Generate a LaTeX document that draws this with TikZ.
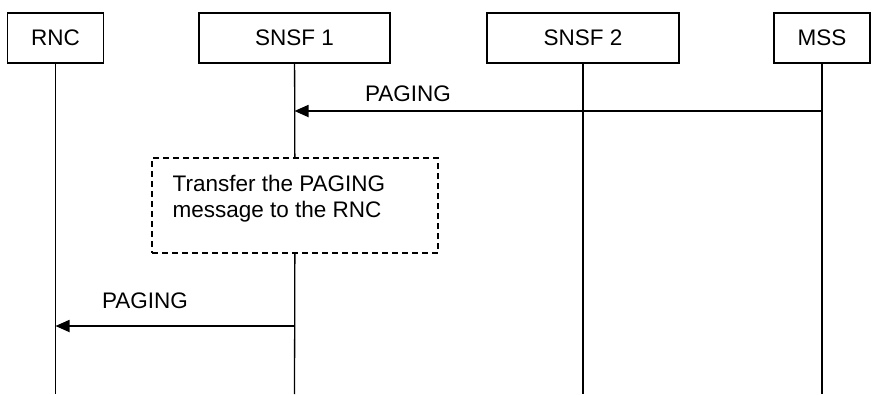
\documentclass[tikz,border=0pt]{standalone}
\usepackage{fontspec}
\setmainfont{Liberation Sans}
\usetikzlibrary{positioning,arrows.meta,calc}

\begin{document}
\begin{tikzpicture}[x=1pt,y=-1pt,
        entity/.style={rectangle, draw, line width=1.1pt, minimum height=50pt, inner sep=0pt, font=\fontsize{22.5}{26}\selectfont},
        lifeline/.style={line width=1.3pt},
        msg/.style={line width=1.8pt, -{Triangle[length=14pt,width=12pt]}},
        lbl/.style={font=\fontsize{22.5}{26}\selectfont, inner sep=0pt, anchor=base}]
        \useasboundingbox (0,0) rectangle (883,394);

        %-----Entities-----

        % RNC Entity
        \node [entity, minimum width=96pt] (rnc) at (55.5,38) {RNC};

        % SNSF 1 Entity
        \node [entity, minimum width=191pt] (snsf1) at (294.5,38) {SNSF 1};

        % SNSF 2 Entity
        \node [entity, minimum width=192pt] (snsf2) at (583,38) {SNSF 2};

        % MSS Entity
        \node [entity, minimum width=96pt] (mss) at (822,38) {MSS};

        % Transfer step (dashed box and its text)
        \node [rectangle, draw, dash pattern=on 6pt off 4pt, line width=1.1pt, fill=white,
               minimum width=286pt, minimum height=95pt] (transfer) at (295,205.5) {};
        \node [anchor=north west, inner sep=0pt, align=left, font=\fontsize{22.5}{26}\selectfont]
               (transfertext) at ($(transfer.north west)+(21,17.5)$) {%
            Transfer the PAGING \\
            message to the RNC
        };

        %-----Lifelines-----
        \coordinate (rncend) at (rnc.south |- 0,394);
        \coordinate (snsf1end) at (snsf1.south |- 0,394);
        \coordinate (snsf2end) at (snsf2.south |- 0,394);
        \coordinate (mssend) at (mss.south |- 0,394);

        \draw[lifeline] (rnc) -- (rncend);
        \draw[lifeline] (snsf1) -- (transfer);
        \draw[lifeline] (transfer) -- (snsf1end);
        \draw[lifeline] (snsf2) -- (snsf2end);
        \draw[lifeline] (mss) -- (mssend);

        %-----Messages-----

        % MSS to SNSF 1
        \coordinate (p1from) at (mss.south |- 0,111);
        \coordinate (p1to) at (snsf1.south |- 0,111);
        \draw[msg] (p1from) -- (p1to);
        \node[lbl] (p1) at (408,101) {PAGING};

        % SNSF 1 to RNC
        \coordinate (p2from) at (snsf1.south |- 0,326);
        \coordinate (p2to) at (rnc.south |- 0,326);
        \draw[msg] (p2from) -- (p2to);
        \node[lbl] (p2) at (145,308) {PAGING};

    \end{tikzpicture}
\end{document}
